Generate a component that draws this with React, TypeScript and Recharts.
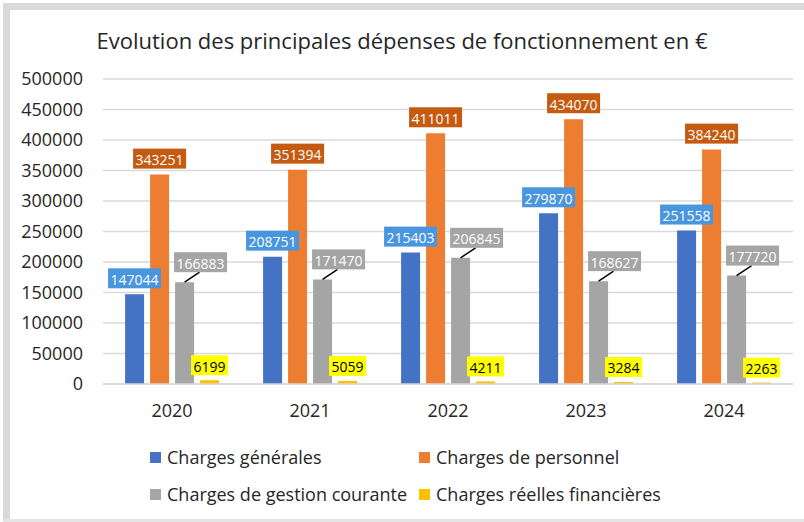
import React from 'react';
import { BarChart, Bar, XAxis, YAxis, CartesianGrid, LabelList, Legend } from 'recharts';

const years = ['2020', '2021', '2022', '2023', '2024'];
const chargesGenerales = [147044, 208751, 215403, 279870, 251558];
const chargesPersonnel = [343251, 351394, 411011, 434070, 384240];
const chargesGestion = [166883, 171470, 206845, 168627, 177720];
const chargesFinancieres = [6199, 5059, 4211, 3284, 2263];
const yTicks = [0, 50000, 100000, 150000, 200000, 250000, 300000, 350000, 400000, 450000, 500000];
const seriesNames = [
  'Charges générales',
  'Charges de personnel',
  'Charges de gestion courante',
  'Charges réelles financières',
];
const title = 'Evolution des principales dépenses de fonctionnement en €';

const FONT = "'Open Sans', sans-serif";
const TEXT = '#262626';
const BAR_COLORS = ['#4472C4', '#ED7D31', '#A5A5A5', '#FFC000'];

const data = years.map((year, i) => ({
  year,
  g: chargesGenerales[i],
  p: chargesPersonnel[i],
  c: chargesGestion[i],
  f: chargesFinancieres[i],
}));

const makeLabel = (bg: string, fg: string, dx: number, gap: number, leader: boolean) => (props: any) => {
  const vb = props.viewBox || {};
  const x = Number(props.x ?? vb.x);
  const y = Number(props.y ?? vb.y);
  const width = Number(props.width ?? vb.width);
  const cx = x + width / 2;
  const top = y;
  const str = String(props.value);
  const w = str.length * 8 + 5;
  const h = 20;
  const bx = cx + dx;
  const bottom = top - gap;
  return (
    <g>
      {leader && <line x1={cx} y1={top} x2={bx - 1} y2={bottom} stroke="#000" strokeWidth={1.5} />}
      <rect x={bx - w / 2} y={bottom - h} width={w} height={h} fill={bg} />
      <text
        x={bx}
        y={bottom - h / 2 + 1}
        textAnchor="middle"
        dominantBaseline="central"
        fill={fg}
        fontSize={14}
        fontFamily={FONT}
      >
        {str}
      </text>
    </g>
  );
};

const legendPos = [
  { x: 150, y: 457 },
  { x: 419, y: 457 },
  { x: 150, y: 494 },
  { x: 419, y: 494 },
];
const LEGEND_TOP = 430;

const renderLegend = () => (
  <div style={{ position: 'relative', width: 804, height: 90 }}>
    {seriesNames.map((name, i) => (
      <div
        key={name}
        style={{
          position: 'absolute',
          left: legendPos[i].x,
          top: legendPos[i].y - LEGEND_TOP - 12,
          height: 24,
          display: 'flex',
          alignItems: 'center',
          whiteSpace: 'nowrap',
          fontFamily: FONT,
          fontSize: 18,
          color: TEXT,
        }}
      >
        <span style={{ display: 'inline-block', width: 11, height: 11, background: BAR_COLORS[i], marginRight: 6 }} />
        <span>{name}</span>
      </div>
    ))}
  </div>
);

export default function App() {
  return (
    <div style={{ position: 'absolute', left: 0, top: 0, width: 804, height: 522, background: '#fff', overflow: 'hidden' }}>
      <div style={{ position: 'absolute', left: 3, top: 3, width: 801, height: 7, background: '#d9d9d9' }} />
      <div style={{ position: 'absolute', left: 3, top: 3, width: 7, height: 519, background: '#d9d9d9' }} />
      <div style={{ position: 'absolute', left: 3, top: 519, width: 801, height: 3, background: '#e4e4e4' }} />
      <div
        style={{
          position: 'absolute',
          left: 0,
          top: 25,
          width: 804,
          lineHeight: '30px',
          textAlign: 'center',
          fontFamily: FONT,
          fontSize: 22,
          color: TEXT,
        }}
      >
        {title}
      </div>
      <BarChart
        width={804}
        height={522}
        data={data}
        margin={{ top: 79, right: 11, bottom: 108, left: 0 }}
        barCategoryGap="16%"
        barGap={6}
        style={{ position: 'absolute', left: 0, top: 0 }}
      >
        <CartesianGrid vertical={false} stroke="#d9d9d9" strokeWidth={1.3} />
        <XAxis
          dataKey="year"
          height={30}
          axisLine={{ stroke: '#d9d9d9', strokeWidth: 1.3 }}
          tickLine={false}
          tickSize={0}
          tickMargin={20}
          tick={{ fill: TEXT, fontSize: 18, fontFamily: FONT }}
        />
        <YAxis
          width={103}
          domain={[0, 500000]}
          ticks={yTicks}
          interval={0}
          axisLine={false}
          tickLine={false}
          tickSize={0}
          tickMargin={20}
          tick={{ fill: TEXT, fontSize: 18, fontFamily: FONT }}
        />
        <Legend
          content={renderLegend}
          layout="horizontal"
          verticalAlign="middle"
          align="center"
          wrapperStyle={{ position: 'absolute', top: LEGEND_TOP, left: 0, width: 804, height: 90 }}
        />
        <Bar dataKey="g" name={seriesNames[0]} fill={BAR_COLORS[0]} isAnimationActive={false}>
          <LabelList dataKey="g" content={makeLabel('#4A96DE', '#ffffff', 0, 6, false)} />
        </Bar>
        <Bar dataKey="p" name={seriesNames[1]} fill={BAR_COLORS[1]} isAnimationActive={false}>
          <LabelList dataKey="p" content={makeLabel('#C55A11', '#ffffff', 0, 6, false)} />
        </Bar>
        <Bar dataKey="c" name={seriesNames[2]} fill={BAR_COLORS[2]} isAnimationActive={false}>
          <LabelList dataKey="c" content={makeLabel('#A5A5A5', '#ffffff', 16, 10, true)} />
        </Bar>
        <Bar dataKey="f" name={seriesNames[3]} fill={BAR_COLORS[3]} isAnimationActive={false}>
          <LabelList dataKey="f" content={makeLabel('#FFFF00', '#000000', 0, 5, false)} />
        </Bar>
      </BarChart>
    </div>
  );
}
